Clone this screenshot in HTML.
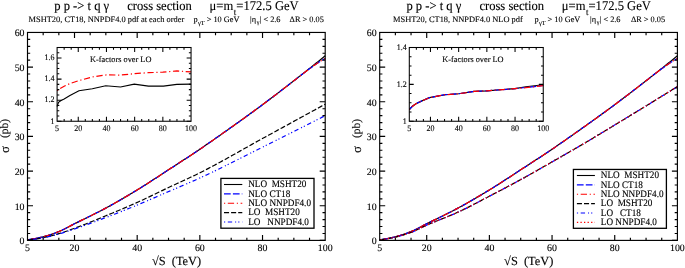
<!DOCTYPE html>
<html><head><meta charset="utf-8"><title>pp -> tq gamma cross section</title>
<style>
html,body{margin:0;padding:0;background:#fff;width:685px;height:268px;overflow:hidden}
svg{display:block;text-rendering:geometricPrecision;will-change:transform}
text{fill:#000;stroke:#000;stroke-width:0.12px;font-family:"Liberation Serif",serif}
</style></head><body>
<svg width="685" height="268" viewBox="0 0 685 268" font-family='"Liberation Serif", serif' style="white-space:pre">
<path d="M27.5,239.88 L29,239.68 L30.49,239.45 L31.99,239.2 L33.48,238.93 L34.98,238.64 L36.48,238.34 L37.97,238.02 L39.47,237.68 L40.96,237.33 L42.46,236.97 L43.96,236.6 L45.45,236.2 L46.95,235.77 L48.44,235.31 L49.94,234.83 L51.44,234.33 L52.93,233.8 L54.43,233.26 L55.92,232.7 L57.42,232.12 L58.92,231.53 L60.41,230.9 L61.91,230.23 L63.4,229.52 L64.9,228.77 L66.4,228 L67.89,227.22 L69.39,226.42 L70.88,225.63 L72.38,224.85 L73.88,224.08 L75.37,223.33 L76.87,222.59 L78.36,221.85 L79.86,221.12 L81.36,220.38 L82.85,219.65 L84.35,218.92 L85.84,218.19 L87.34,217.45 L88.84,216.72 L90.33,215.98 L91.83,215.25 L93.32,214.5 L94.82,213.76 L96.32,213.01 L97.81,212.25 L99.31,211.49 L100.8,210.72 L102.3,209.94 L103.79,209.15 L105.29,208.36 L106.79,207.55 L108.28,206.74 L109.78,205.92 L111.27,205.1 L112.77,204.27 L114.27,203.43 L115.76,202.58 L117.26,201.73 L118.75,200.87 L120.25,200.01 L121.75,199.14 L123.24,198.27 L124.74,197.39 L126.23,196.51 L127.73,195.63 L129.23,194.73 L130.72,193.84 L132.22,192.94 L133.71,192.04 L135.21,191.13 L136.71,190.22 L138.2,189.31 L139.7,188.39 L141.19,187.46 L142.69,186.53 L144.19,185.59 L145.68,184.64 L147.18,183.68 L148.67,182.73 L150.17,181.76 L151.67,180.8 L153.16,179.82 L154.66,178.85 L156.15,177.88 L157.65,176.9 L159.15,175.92 L160.64,174.94 L162.14,173.96 L163.63,172.98 L165.13,172.01 L166.63,171.03 L168.12,170.06 L169.62,169.09 L171.11,168.11 L172.61,167.14 L174.11,166.17 L175.6,165.2 L177.1,164.23 L178.59,163.26 L180.09,162.28 L181.59,161.31 L183.08,160.33 L184.58,159.36 L186.07,158.38 L187.57,157.39 L189.07,156.41 L190.56,155.42 L192.06,154.43 L193.55,153.44 L195.05,152.44 L196.55,151.44 L198.04,150.44 L199.54,149.43 L201.03,148.41 L202.53,147.4 L204.03,146.37 L205.52,145.35 L207.02,144.32 L208.51,143.29 L210.01,142.25 L211.51,141.21 L213,140.17 L214.5,139.13 L215.99,138.08 L217.49,137.03 L218.99,135.98 L220.48,134.93 L221.98,133.87 L223.47,132.81 L224.97,131.76 L226.47,130.7 L227.96,129.64 L229.46,128.57 L230.95,127.51 L232.45,126.45 L233.95,125.39 L235.44,124.32 L236.94,123.25 L238.43,122.19 L239.93,121.12 L241.43,120.04 L242.92,118.97 L244.42,117.9 L245.91,116.82 L247.41,115.74 L248.91,114.66 L250.4,113.57 L251.9,112.49 L253.39,111.4 L254.89,110.31 L256.38,109.21 L257.88,108.11 L259.38,107.01 L260.87,105.9 L262.37,104.79 L263.86,103.68 L265.36,102.57 L266.86,101.45 L268.35,100.32 L269.85,99.2 L271.34,98.07 L272.84,96.94 L274.34,95.8 L275.83,94.66 L277.33,93.52 L278.82,92.38 L280.32,91.24 L281.82,90.09 L283.31,88.94 L284.81,87.78 L286.3,86.63 L287.8,85.47 L289.3,84.31 L290.79,83.15 L292.29,81.99 L293.78,80.83 L295.28,79.66 L296.78,78.49 L298.27,77.32 L299.77,76.15 L301.26,74.97 L302.76,73.79 L304.26,72.61 L305.75,71.43 L307.25,70.24 L308.74,69.06 L310.24,67.87 L311.74,66.68 L313.23,65.48 L314.73,64.28 L316.22,63.09 L317.72,61.88 L319.22,60.68 L320.71,59.48 L322.21,58.27 L323.7,57.06 L325.2,55.84" stroke="#000" stroke-width="1.2" fill="none" stroke-dashoffset="0"/>
<path d="M27.5,239.88 L29,239.68 L30.49,239.45 L31.99,239.2 L33.48,238.93 L34.98,238.64 L36.48,238.34 L37.97,238.02 L39.47,237.68 L40.96,237.33 L42.46,236.97 L43.96,236.6 L45.45,236.2 L46.95,235.77 L48.44,235.31 L49.94,234.83 L51.44,234.33 L52.93,233.8 L54.43,233.26 L55.92,232.7 L57.42,232.12 L58.92,231.53 L60.41,230.9 L61.91,230.23 L63.4,229.52 L64.9,228.77 L66.4,228 L67.89,227.22 L69.39,226.42 L70.88,225.63 L72.38,224.85 L73.88,224.08 L75.37,223.33 L76.87,222.59 L78.36,221.85 L79.86,221.12 L81.36,220.38 L82.85,219.65 L84.35,218.92 L85.84,218.19 L87.34,217.45 L88.84,216.72 L90.33,215.98 L91.83,215.25 L93.32,214.5 L94.82,213.76 L96.32,213.01 L97.81,212.25 L99.31,211.49 L100.8,210.72 L102.3,209.94 L103.79,209.15 L105.29,208.36 L106.79,207.55 L108.28,206.74 L109.78,205.92 L111.27,205.1 L112.77,204.27 L114.27,203.43 L115.76,202.58 L117.26,201.73 L118.75,200.87 L120.25,200.01 L121.75,199.14 L123.24,198.27 L124.74,197.39 L126.23,196.51 L127.73,195.63 L129.23,194.73 L130.72,193.84 L132.22,192.94 L133.71,192.04 L135.21,191.13 L136.71,190.22 L138.2,189.31 L139.7,188.39 L141.19,187.46 L142.69,186.53 L144.19,185.59 L145.68,184.64 L147.18,183.68 L148.67,182.73 L150.17,181.76 L151.67,180.8 L153.16,179.82 L154.66,178.85 L156.15,177.88 L157.65,176.9 L159.15,175.92 L160.64,174.94 L162.14,173.96 L163.63,172.98 L165.13,172.01 L166.63,171.03 L168.12,170.06 L169.62,169.09 L171.11,168.11 L172.61,167.14 L174.11,166.17 L175.6,165.2 L177.1,164.23 L178.59,163.26 L180.09,162.28 L181.59,161.31 L183.08,160.33 L184.58,159.36 L186.07,158.38 L187.57,157.39 L189.07,156.41 L190.56,155.42 L192.06,154.43 L193.55,153.44 L195.05,152.44 L196.55,151.44 L198.04,150.44 L199.54,149.43 L201.03,148.41 L202.53,147.4 L204.03,146.37 L205.52,145.35 L207.02,144.32 L208.51,143.29 L210.01,142.25 L211.51,141.21 L213,140.17 L214.5,139.13 L215.99,138.08 L217.49,137.03 L218.99,135.98 L220.48,134.93 L221.98,133.87 L223.47,132.81 L224.97,131.76 L226.47,130.7 L227.96,129.64 L229.46,128.57 L230.95,127.51 L232.45,126.45 L233.95,125.39 L235.44,124.32 L236.94,123.25 L238.43,122.19 L239.93,121.12 L241.43,120.04 L242.92,118.97 L244.42,117.9 L245.91,116.82 L247.41,115.74 L248.91,114.66 L250.4,113.57 L251.9,112.49 L253.39,111.4 L254.89,110.31 L256.38,109.21 L257.88,108.11 L259.38,107.01 L260.87,105.9 L262.37,104.79 L263.86,103.68 L265.36,102.57 L266.86,101.45 L268.35,100.32 L269.85,99.2 L271.34,98.07 L272.84,96.94 L274.34,95.8 L275.83,94.66 L277.33,93.52 L278.82,92.38 L280.32,91.24 L281.82,90.09 L283.31,88.94 L284.81,87.78 L286.3,86.63 L287.8,85.47 L289.3,84.31 L290.79,83.15 L292.29,81.99 L293.78,80.83 L295.28,79.66 L296.78,78.49 L298.27,77.33 L299.77,76.16 L301.26,75 L302.76,73.85 L304.26,72.71 L305.75,71.57 L307.25,70.45 L308.74,69.34 L310.24,68.24 L311.74,67.16 L313.23,66.09 L314.73,65.05 L316.22,64.03 L317.72,63.03 L319.22,62.06 L320.71,61.11 L322.21,60.19 L323.7,59.3 L325.2,58.44" stroke="#0000ff" stroke-width="1.2" fill="none" stroke-dasharray="6.7 2.2" stroke-dashoffset="0"/>
<path d="M27.5,239.88 L29,239.68 L30.49,239.45 L31.99,239.2 L33.48,238.93 L34.98,238.64 L36.48,238.34 L37.97,238.02 L39.47,237.68 L40.96,237.33 L42.46,236.97 L43.96,236.6 L45.45,236.2 L46.95,235.77 L48.44,235.31 L49.94,234.83 L51.44,234.33 L52.93,233.8 L54.43,233.26 L55.92,232.7 L57.42,232.12 L58.92,231.53 L60.41,230.9 L61.91,230.23 L63.4,229.52 L64.9,228.77 L66.4,228 L67.89,227.22 L69.39,226.42 L70.88,225.63 L72.38,224.85 L73.88,224.08 L75.37,223.33 L76.87,222.59 L78.36,221.85 L79.86,221.12 L81.36,220.38 L82.85,219.65 L84.35,218.92 L85.84,218.19 L87.34,217.45 L88.84,216.72 L90.33,215.98 L91.83,215.25 L93.32,214.5 L94.82,213.76 L96.32,213.01 L97.81,212.25 L99.31,211.49 L100.8,210.72 L102.3,209.94 L103.79,209.15 L105.29,208.36 L106.79,207.55 L108.28,206.74 L109.78,205.92 L111.27,205.1 L112.77,204.27 L114.27,203.43 L115.76,202.58 L117.26,201.73 L118.75,200.87 L120.25,200.01 L121.75,199.14 L123.24,198.27 L124.74,197.39 L126.23,196.51 L127.73,195.63 L129.23,194.73 L130.72,193.84 L132.22,192.94 L133.71,192.04 L135.21,191.13 L136.71,190.22 L138.2,189.31 L139.7,188.39 L141.19,187.46 L142.69,186.53 L144.19,185.59 L145.68,184.64 L147.18,183.68 L148.67,182.73 L150.17,181.76 L151.67,180.8 L153.16,179.82 L154.66,178.85 L156.15,177.88 L157.65,176.9 L159.15,175.92 L160.64,174.94 L162.14,173.96 L163.63,172.98 L165.13,172.01 L166.63,171.03 L168.12,170.06 L169.62,169.09 L171.11,168.11 L172.61,167.14 L174.11,166.17 L175.6,165.2 L177.1,164.23 L178.59,163.26 L180.09,162.28 L181.59,161.31 L183.08,160.33 L184.58,159.36 L186.07,158.38 L187.57,157.39 L189.07,156.41 L190.56,155.42 L192.06,154.43 L193.55,153.44 L195.05,152.44 L196.55,151.44 L198.04,150.44 L199.54,149.43 L201.03,148.41 L202.53,147.4 L204.03,146.37 L205.52,145.35 L207.02,144.32 L208.51,143.29 L210.01,142.25 L211.51,141.21 L213,140.17 L214.5,139.13 L215.99,138.08 L217.49,137.03 L218.99,135.98 L220.48,134.93 L221.98,133.87 L223.47,132.81 L224.97,131.76 L226.47,130.7 L227.96,129.64 L229.46,128.57 L230.95,127.51 L232.45,126.45 L233.95,125.39 L235.44,124.32 L236.94,123.25 L238.43,122.19 L239.93,121.12 L241.43,120.04 L242.92,118.97 L244.42,117.9 L245.91,116.82 L247.41,115.74 L248.91,114.66 L250.4,113.57 L251.9,112.49 L253.39,111.4 L254.89,110.31 L256.38,109.21 L257.88,108.11 L259.38,107.01 L260.87,105.9 L262.37,104.79 L263.86,103.68 L265.36,102.57 L266.86,101.45 L268.35,100.32 L269.85,99.2 L271.34,98.07 L272.84,96.94 L274.34,95.8 L275.83,94.66 L277.33,93.52 L278.82,92.38 L280.32,91.24 L281.82,90.09 L283.31,88.94 L284.81,87.78 L286.3,86.63 L287.8,85.47 L289.3,84.31 L290.79,83.15 L292.29,81.99 L293.78,80.83 L295.28,79.66 L296.78,78.49 L298.27,77.33 L299.77,76.16 L301.26,75 L302.76,73.85 L304.26,72.71 L305.75,71.57 L307.25,70.45 L308.74,69.34 L310.24,68.24 L311.74,67.16 L313.23,66.09 L314.73,65.05 L316.22,64.03 L317.72,63.03 L319.22,62.06 L320.71,61.11 L322.21,60.19 L323.7,59.3 L325.2,58.44" stroke="#ff0000" stroke-width="1.2" fill="none" stroke-dasharray="1.2 2.6 6.3 2.7" stroke-dashoffset="0"/>
<path d="M27.5,239.98 L29,239.83 L30.49,239.65 L31.99,239.46 L33.48,239.26 L34.98,239.04 L36.48,238.8 L37.97,238.56 L39.47,238.3 L40.96,238.04 L42.46,237.76 L43.96,237.47 L45.45,237.17 L46.95,236.83 L48.44,236.48 L49.94,236.11 L51.44,235.72 L52.93,235.32 L54.43,234.91 L55.92,234.48 L57.42,234.05 L58.92,233.62 L60.41,233.17 L61.91,232.7 L63.4,232.21 L64.9,231.71 L66.4,231.2 L67.89,230.67 L69.39,230.13 L70.88,229.59 L72.38,229.05 L73.88,228.5 L75.37,227.95 L76.87,227.4 L78.36,226.84 L79.86,226.27 L81.36,225.69 L82.85,225.12 L84.35,224.53 L85.84,223.94 L87.34,223.35 L88.84,222.75 L90.33,222.15 L91.83,221.54 L93.32,220.94 L94.82,220.33 L96.32,219.71 L97.81,219.1 L99.31,218.48 L100.8,217.87 L102.3,217.25 L103.79,216.64 L105.29,216.02 L106.79,215.4 L108.28,214.79 L109.78,214.17 L111.27,213.55 L112.77,212.93 L114.27,212.31 L115.76,211.68 L117.26,211.06 L118.75,210.43 L120.25,209.8 L121.75,209.17 L123.24,208.53 L124.74,207.9 L126.23,207.25 L127.73,206.61 L129.23,205.96 L130.72,205.31 L132.22,204.65 L133.71,203.99 L135.21,203.33 L136.71,202.66 L138.2,201.99 L139.7,201.31 L141.19,200.62 L142.69,199.92 L144.19,199.22 L145.68,198.52 L147.18,197.81 L148.67,197.1 L150.17,196.38 L151.67,195.66 L153.16,194.94 L154.66,194.21 L156.15,193.49 L157.65,192.77 L159.15,192.04 L160.64,191.32 L162.14,190.59 L163.63,189.87 L165.13,189.16 L166.63,188.44 L168.12,187.73 L169.62,187.03 L171.11,186.32 L172.61,185.63 L174.11,184.93 L175.6,184.24 L177.1,183.55 L178.59,182.87 L180.09,182.18 L181.59,181.49 L183.08,180.8 L184.58,180.11 L186.07,179.42 L187.57,178.72 L189.07,178.03 L190.56,177.32 L192.06,176.61 L193.55,175.9 L195.05,175.18 L196.55,174.45 L198.04,173.72 L199.54,172.97 L201.03,172.22 L202.53,171.46 L204.03,170.7 L205.52,169.93 L207.02,169.15 L208.51,168.37 L210.01,167.58 L211.51,166.79 L213,165.99 L214.5,165.19 L215.99,164.39 L217.49,163.58 L218.99,162.77 L220.48,161.95 L221.98,161.13 L223.47,160.31 L224.97,159.48 L226.47,158.65 L227.96,157.82 L229.46,156.99 L230.95,156.15 L232.45,155.32 L233.95,154.48 L235.44,153.64 L236.94,152.8 L238.43,151.96 L239.93,151.11 L241.43,150.27 L242.92,149.43 L244.42,148.59 L245.91,147.75 L247.41,146.91 L248.91,146.07 L250.4,145.23 L251.9,144.39 L253.39,143.56 L254.89,142.72 L256.38,141.89 L257.88,141.06 L259.38,140.24 L260.87,139.41 L262.37,138.59 L263.86,137.77 L265.36,136.95 L266.86,136.13 L268.35,135.31 L269.85,134.5 L271.34,133.68 L272.84,132.86 L274.34,132.04 L275.83,131.22 L277.33,130.4 L278.82,129.58 L280.32,128.76 L281.82,127.94 L283.31,127.12 L284.81,126.31 L286.3,125.49 L287.8,124.67 L289.3,123.85 L290.79,123.03 L292.29,122.21 L293.78,121.39 L295.28,120.57 L296.78,119.75 L298.27,118.93 L299.77,118.12 L301.26,117.3 L302.76,116.48 L304.26,115.66 L305.75,114.84 L307.25,114.02 L308.74,113.2 L310.24,112.38 L311.74,111.56 L313.23,110.74 L314.73,109.93 L316.22,109.11 L317.72,108.29 L319.22,107.47 L320.71,106.65 L322.21,105.83 L323.7,105.01 L325.2,104.19" stroke="#000" stroke-width="1.2" fill="none" stroke-dasharray="5.05 2.05" stroke-dashoffset="6.2"/>
<path d="M27.5,240.02 L29,239.87 L30.49,239.71 L31.99,239.53 L33.48,239.34 L34.98,239.13 L36.48,238.91 L37.97,238.68 L39.47,238.44 L40.96,238.19 L42.46,237.93 L43.96,237.66 L45.45,237.36 L46.95,237.04 L48.44,236.71 L49.94,236.35 L51.44,235.98 L52.93,235.59 L54.43,235.19 L55.92,234.79 L57.42,234.38 L58.92,233.97 L60.41,233.54 L61.91,233.1 L63.4,232.64 L64.9,232.17 L66.4,231.69 L67.89,231.2 L69.39,230.7 L70.88,230.19 L72.38,229.68 L73.88,229.18 L75.37,228.67 L76.87,228.16 L78.36,227.64 L79.86,227.12 L81.36,226.59 L82.85,226.06 L84.35,225.52 L85.84,224.99 L87.34,224.44 L88.84,223.9 L90.33,223.35 L91.83,222.8 L93.32,222.24 L94.82,221.69 L96.32,221.13 L97.81,220.57 L99.31,220 L100.8,219.44 L102.3,218.87 L103.79,218.3 L105.29,217.74 L106.79,217.17 L108.28,216.59 L109.78,216.02 L111.27,215.44 L112.77,214.86 L114.27,214.27 L115.76,213.69 L117.26,213.1 L118.75,212.51 L120.25,211.91 L121.75,211.32 L123.24,210.72 L124.74,210.12 L126.23,209.52 L127.73,208.91 L129.23,208.31 L130.72,207.7 L132.22,207.09 L133.71,206.47 L135.21,205.86 L136.71,205.24 L138.2,204.62 L139.7,204 L141.19,203.38 L142.69,202.75 L144.19,202.11 L145.68,201.48 L147.18,200.84 L148.67,200.2 L150.17,199.55 L151.67,198.91 L153.16,198.26 L154.66,197.61 L156.15,196.96 L157.65,196.31 L159.15,195.66 L160.64,195.01 L162.14,194.36 L163.63,193.71 L165.13,193.07 L166.63,192.42 L168.12,191.77 L169.62,191.13 L171.11,190.48 L172.61,189.84 L174.11,189.21 L175.6,188.57 L177.1,187.93 L178.59,187.3 L180.09,186.66 L181.59,186.02 L183.08,185.38 L184.58,184.74 L186.07,184.1 L187.57,183.46 L189.07,182.81 L190.56,182.16 L192.06,181.5 L193.55,180.85 L195.05,180.18 L196.55,179.51 L198.04,178.84 L199.54,178.16 L201.03,177.47 L202.53,176.78 L204.03,176.09 L205.52,175.39 L207.02,174.69 L208.51,173.98 L210.01,173.27 L211.51,172.56 L213,171.84 L214.5,171.12 L215.99,170.39 L217.49,169.67 L218.99,168.94 L220.48,168.21 L221.98,167.47 L223.47,166.74 L224.97,166 L226.47,165.26 L227.96,164.51 L229.46,163.77 L230.95,163.02 L232.45,162.27 L233.95,161.53 L235.44,160.78 L236.94,160.02 L238.43,159.27 L239.93,158.52 L241.43,157.77 L242.92,157.01 L244.42,156.26 L245.91,155.51 L247.41,154.75 L248.91,154 L250.4,153.24 L251.9,152.49 L253.39,151.74 L254.89,150.99 L256.38,150.24 L257.88,149.49 L259.38,148.74 L260.87,147.99 L262.37,147.25 L263.86,146.5 L265.36,145.76 L266.86,145.01 L268.35,144.27 L269.85,143.52 L271.34,142.77 L272.84,142.03 L274.34,141.28 L275.83,140.53 L277.33,139.78 L278.82,139.03 L280.32,138.29 L281.82,137.54 L283.31,136.79 L284.81,136.04 L286.3,135.29 L287.8,134.53 L289.3,133.78 L290.79,133.03 L292.29,132.28 L293.78,131.53 L295.28,130.77 L296.78,130.02 L298.27,129.27 L299.77,128.51 L301.26,127.76 L302.76,127 L304.26,126.25 L305.75,125.49 L307.25,124.73 L308.74,123.98 L310.24,123.22 L311.74,122.46 L313.23,121.71 L314.73,120.95 L316.22,120.19 L317.72,119.43 L319.22,118.67 L320.71,117.91 L322.21,117.15 L323.7,116.39 L325.2,115.63" stroke="#0000ff" stroke-width="1.2" fill="none" stroke-dasharray="1.2 2.6 4.35 2.95 1.05 2.05" stroke-dashoffset="12.6"/>
<rect x="57.1" y="47.5" width="133.95" height="73.75" fill="#fff"/>
<path d="M57.1,106.5 L58.51,102.29 L61.05,100.6 L64.15,98.91 L69.93,95.44 L78.96,90.7 L92.35,88.8 L105.75,85.74 L120.55,87.01 L134.23,84.16 L148.47,86.06 L163.41,86.06 L176.81,84.38 L191.05,84.16" stroke="#000" stroke-width="1.15" fill="none" stroke-dashoffset="0"/>
<path d="M57.1,90.7 L59.92,88.59 L64.15,86.17 L69.93,83.53 L78.96,80.58 L92.35,77 L106.45,74.89 L120.55,75.1 L134.65,73.63 L148.75,72.68 L162.85,72.15 L176.95,70.89 L191.05,71.94" stroke="#ff0000" stroke-width="1.2" fill="none" stroke-dasharray="1.2 2.6 6.3 2.7" stroke-dashoffset="0"/>
<path d="M64.15,121.25v-2.2 M64.15,47.5v2.2 M71.2,121.25v-2.2 M71.2,47.5v2.2 M78.25,121.25v-4.4 M78.25,47.5v4.4 M85.3,121.25v-2.2 M85.3,47.5v2.2 M92.35,121.25v-2.2 M92.35,47.5v2.2 M99.4,121.25v-2.2 M99.4,47.5v2.2 M106.45,121.25v-4.4 M106.45,47.5v4.4 M113.5,121.25v-2.2 M113.5,47.5v2.2 M120.55,121.25v-2.2 M120.55,47.5v2.2 M127.6,121.25v-2.2 M127.6,47.5v2.2 M134.65,121.25v-4.4 M134.65,47.5v4.4 M141.7,121.25v-2.2 M141.7,47.5v2.2 M148.75,121.25v-2.2 M148.75,47.5v2.2 M155.8,121.25v-2.2 M155.8,47.5v2.2 M162.85,121.25v-4.4 M162.85,47.5v4.4 M169.9,121.25v-2.2 M169.9,47.5v2.2 M176.95,121.25v-2.2 M176.95,47.5v2.2 M184,121.25v-2.2 M184,47.5v2.2 M78.25,121.25v-4.4 M78.25,47.5v4.4 M106.45,121.25v-4.4 M106.45,47.5v4.4 M134.65,121.25v-4.4 M134.65,47.5v4.4 M162.85,121.25v-4.4 M162.85,47.5v4.4 M57.1,121.25h4.4 M191.05,121.25h-4.4 M57.1,115.98h2.2 M191.05,115.98h-2.2 M57.1,110.71h2.2 M191.05,110.71h-2.2 M57.1,105.45h2.2 M191.05,105.45h-2.2 M57.1,100.18h4.4 M191.05,100.18h-4.4 M57.1,94.91h2.2 M191.05,94.91h-2.2 M57.1,89.64h2.2 M191.05,89.64h-2.2 M57.1,84.38h2.2 M191.05,84.38h-2.2 M57.1,79.11h4.4 M191.05,79.11h-4.4 M57.1,73.84h2.2 M191.05,73.84h-2.2 M57.1,68.57h2.2 M191.05,68.57h-2.2 M57.1,63.3h2.2 M191.05,63.3h-2.2 M57.1,58.04h4.4 M191.05,58.04h-4.4 M57.1,52.77h2.2 M191.05,52.77h-2.2 M57.1,47.5h2.2 M191.05,47.5h-2.2" stroke="#000" stroke-width="1.05" fill="none"/>
<rect x="57.1" y="47.5" width="133.95" height="73.75" fill="none" stroke="#000" stroke-width="1.05"/>
<text transform="translate(57.1,130.6) scale(1,1.06)" font-size="8" text-anchor="middle">5</text>
<text transform="translate(78.25,130.6) scale(1,1.06)" font-size="8" text-anchor="middle">20</text>
<text transform="translate(106.45,130.6) scale(1,1.06)" font-size="8" text-anchor="middle">40</text>
<text transform="translate(134.65,130.6) scale(1,1.06)" font-size="8" text-anchor="middle">60</text>
<text transform="translate(162.85,130.6) scale(1,1.06)" font-size="8" text-anchor="middle">80</text>
<text transform="translate(191.05,130.6) scale(1,1.06)" font-size="8" text-anchor="middle">100</text>
<text transform="translate(54.6,123.55) scale(1,1.06)" font-size="8" text-anchor="end">1</text>
<text transform="translate(54.6,102.48) scale(1,1.06)" font-size="8" text-anchor="end">1.2</text>
<text transform="translate(54.6,81.41) scale(1,1.06)" font-size="8" text-anchor="end">1.4</text>
<text transform="translate(54.6,60.34) scale(1,1.06)" font-size="8" text-anchor="end">1.6</text>
<text x="90.1" y="62" font-size="8.3" text-anchor="start">K-factors over LO</text>
<path d="M43.17,240.4v-2.7 M43.17,32.45v2.7 M58.84,240.4v-2.7 M58.84,32.45v2.7 M74.51,240.4v-5.5 M74.51,32.45v5.5 M90.17,240.4v-2.7 M90.17,32.45v2.7 M105.84,240.4v-2.7 M105.84,32.45v2.7 M121.51,240.4v-2.7 M121.51,32.45v2.7 M137.18,240.4v-5.5 M137.18,32.45v5.5 M152.85,240.4v-2.7 M152.85,32.45v2.7 M168.52,240.4v-2.7 M168.52,32.45v2.7 M184.18,240.4v-2.7 M184.18,32.45v2.7 M199.85,240.4v-5.5 M199.85,32.45v5.5 M215.52,240.4v-2.7 M215.52,32.45v2.7 M231.19,240.4v-2.7 M231.19,32.45v2.7 M246.86,240.4v-2.7 M246.86,32.45v2.7 M262.53,240.4v-5.5 M262.53,32.45v5.5 M278.19,240.4v-2.7 M278.19,32.45v2.7 M293.86,240.4v-2.7 M293.86,32.45v2.7 M309.53,240.4v-2.7 M309.53,32.45v2.7 M27.5,240.4h5.5 M325.2,240.4h-5.5 M27.5,233.47h2.7 M325.2,233.47h-2.7 M27.5,226.54h2.7 M325.2,226.54h-2.7 M27.5,219.61h2.7 M325.2,219.61h-2.7 M27.5,212.67h2.7 M325.2,212.67h-2.7 M27.5,205.74h5.5 M325.2,205.74h-5.5 M27.5,198.81h2.7 M325.2,198.81h-2.7 M27.5,191.88h2.7 M325.2,191.88h-2.7 M27.5,184.95h2.7 M325.2,184.95h-2.7 M27.5,178.02h2.7 M325.2,178.02h-2.7 M27.5,171.08h5.5 M325.2,171.08h-5.5 M27.5,164.15h2.7 M325.2,164.15h-2.7 M27.5,157.22h2.7 M325.2,157.22h-2.7 M27.5,150.29h2.7 M325.2,150.29h-2.7 M27.5,143.36h2.7 M325.2,143.36h-2.7 M27.5,136.43h5.5 M325.2,136.43h-5.5 M27.5,129.49h2.7 M325.2,129.49h-2.7 M27.5,122.56h2.7 M325.2,122.56h-2.7 M27.5,115.63h2.7 M325.2,115.63h-2.7 M27.5,108.7h2.7 M325.2,108.7h-2.7 M27.5,101.77h5.5 M325.2,101.77h-5.5 M27.5,94.84h2.7 M325.2,94.84h-2.7 M27.5,87.9h2.7 M325.2,87.9h-2.7 M27.5,80.97h2.7 M325.2,80.97h-2.7 M27.5,74.04h2.7 M325.2,74.04h-2.7 M27.5,67.11h5.5 M325.2,67.11h-5.5 M27.5,60.18h2.7 M325.2,60.18h-2.7 M27.5,53.25h2.7 M325.2,53.25h-2.7 M27.5,46.31h2.7 M325.2,46.31h-2.7 M27.5,39.38h2.7 M325.2,39.38h-2.7 M27.5,32.45h5.5 M325.2,32.45h-5.5" stroke="#000" stroke-width="1.15" fill="none"/>
<rect x="27.5" y="32.45" width="297.7" height="207.95" fill="none" stroke="#000" stroke-width="1.15"/>
<text x="27.5" y="250.6" font-size="9.9" text-anchor="middle">5</text>
<text x="74.51" y="250.6" font-size="9.9" text-anchor="middle">20</text>
<text x="137.18" y="250.6" font-size="9.9" text-anchor="middle">40</text>
<text x="199.85" y="250.6" font-size="9.9" text-anchor="middle">60</text>
<text x="262.53" y="250.6" font-size="9.9" text-anchor="middle">80</text>
<text x="325.2" y="250.6" font-size="9.9" text-anchor="middle">100</text>
<text x="24.5" y="244.4" font-size="9.9" text-anchor="end">0</text>
<text x="24.5" y="209.74" font-size="9.9" text-anchor="end">10</text>
<text x="24.5" y="175.08" font-size="9.9" text-anchor="end">20</text>
<text x="24.5" y="140.43" font-size="9.9" text-anchor="end">30</text>
<text x="24.5" y="105.77" font-size="9.9" text-anchor="end">40</text>
<text x="24.5" y="71.11" font-size="9.9" text-anchor="end">50</text>
<text x="24.5" y="36.45" font-size="9.9" text-anchor="end">60</text>
<text x="151.9" y="265" font-size="12.4" text-anchor="start">&#8730;S&#160;&#160;(TeV)</text>
<text transform="translate(8.2,128.4) rotate(-90)" font-size="11.5" text-anchor="middle">(pb)</text>
<text transform="translate(8.6,149.6) rotate(-90)" font-size="13" text-anchor="middle">&#963;</text>
<rect x="220.9" y="178.4" width="93.1" height="49.8" fill="#fff" stroke="#000" stroke-width="1.3"/>
<path d="M224,184.5H242.3" stroke="#000" stroke-width="1.1" fill="none" stroke-dashoffset="0"/>
<text transform="translate(248.2,187.3) scale(1,1.08)" font-size="9.2" text-anchor="start">NLO&#160;&#160;MSHT20</text>
<path d="M224,193.88H242.3" stroke="#0000ff" stroke-width="1.1" fill="none" stroke-dasharray="6.7 2.2" stroke-dashoffset="0"/>
<text transform="translate(248.2,196.68) scale(1,1.08)" font-size="9.2" text-anchor="start">NLO CT18</text>
<path d="M224,203.26H242.3" stroke="#ff0000" stroke-width="1.1" fill="none" stroke-dasharray="1.2 2.6 6.3 2.7" stroke-dashoffset="0"/>
<text transform="translate(248.2,206.06) scale(1,1.08)" font-size="9.2" text-anchor="start">NLO NNPDF4.0</text>
<path d="M224,212.64H242.3" stroke="#000" stroke-width="1.1" fill="none" stroke-dasharray="5.05 2.05" stroke-dashoffset="0"/>
<text transform="translate(248.2,215.44) scale(1,1.08)" font-size="9.2" text-anchor="start">LO&#160;&#160;MSHT20</text>
<path d="M224,222.02H242.3" stroke="#0000ff" stroke-width="1.1" fill="none" stroke-dasharray="1.2 2.6 4.35 2.95 1.05 2.05" stroke-dashoffset="0"/>
<text transform="translate(248.2,224.82) scale(1,1.08)" font-size="9.2" text-anchor="start">LO&#160;&#160;&#160;NNPDF4.0</text>
<path d="M379.7,239.88 L381.2,239.68 L382.69,239.45 L384.19,239.2 L385.68,238.93 L387.18,238.64 L388.68,238.34 L390.17,238.02 L391.67,237.68 L393.16,237.33 L394.66,236.97 L396.16,236.6 L397.65,236.2 L399.15,235.77 L400.64,235.31 L402.14,234.83 L403.64,234.33 L405.13,233.8 L406.63,233.26 L408.12,232.7 L409.62,232.12 L411.12,231.53 L412.61,230.9 L414.11,230.23 L415.6,229.52 L417.1,228.77 L418.6,228 L420.09,227.22 L421.59,226.42 L423.08,225.63 L424.58,224.85 L426.08,224.08 L427.57,223.33 L429.07,222.59 L430.56,221.85 L432.06,221.12 L433.56,220.38 L435.05,219.65 L436.55,218.92 L438.04,218.19 L439.54,217.45 L441.04,216.72 L442.53,215.98 L444.03,215.25 L445.52,214.5 L447.02,213.76 L448.52,213.01 L450.01,212.25 L451.51,211.49 L453,210.72 L454.5,209.94 L455.99,209.15 L457.49,208.36 L458.99,207.55 L460.48,206.74 L461.98,205.92 L463.47,205.1 L464.97,204.27 L466.47,203.43 L467.96,202.58 L469.46,201.73 L470.95,200.87 L472.45,200.01 L473.95,199.14 L475.44,198.27 L476.94,197.39 L478.43,196.51 L479.93,195.63 L481.43,194.73 L482.92,193.84 L484.42,192.94 L485.91,192.04 L487.41,191.13 L488.91,190.22 L490.4,189.31 L491.9,188.39 L493.39,187.46 L494.89,186.53 L496.39,185.59 L497.88,184.64 L499.38,183.68 L500.87,182.73 L502.37,181.76 L503.87,180.8 L505.36,179.82 L506.86,178.85 L508.35,177.88 L509.85,176.9 L511.35,175.92 L512.84,174.94 L514.34,173.96 L515.83,172.98 L517.33,172.01 L518.83,171.03 L520.32,170.06 L521.82,169.09 L523.31,168.11 L524.81,167.14 L526.31,166.17 L527.8,165.2 L529.3,164.23 L530.79,163.26 L532.29,162.28 L533.79,161.31 L535.28,160.33 L536.78,159.36 L538.27,158.38 L539.77,157.39 L541.27,156.41 L542.76,155.42 L544.26,154.43 L545.75,153.44 L547.25,152.44 L548.75,151.44 L550.24,150.44 L551.74,149.43 L553.23,148.41 L554.73,147.4 L556.23,146.37 L557.72,145.35 L559.22,144.32 L560.71,143.29 L562.21,142.25 L563.71,141.21 L565.2,140.17 L566.7,139.13 L568.19,138.08 L569.69,137.03 L571.19,135.98 L572.68,134.93 L574.18,133.87 L575.67,132.81 L577.17,131.76 L578.67,130.7 L580.16,129.64 L581.66,128.57 L583.15,127.51 L584.65,126.45 L586.15,125.39 L587.64,124.32 L589.14,123.25 L590.63,122.19 L592.13,121.12 L593.63,120.04 L595.12,118.97 L596.62,117.9 L598.11,116.82 L599.61,115.74 L601.11,114.66 L602.6,113.57 L604.1,112.49 L605.59,111.4 L607.09,110.31 L608.58,109.21 L610.08,108.11 L611.58,107.01 L613.07,105.9 L614.57,104.79 L616.06,103.68 L617.56,102.57 L619.06,101.45 L620.55,100.32 L622.05,99.2 L623.54,98.07 L625.04,96.94 L626.54,95.8 L628.03,94.66 L629.53,93.52 L631.02,92.38 L632.52,91.24 L634.02,90.09 L635.51,88.94 L637.01,87.78 L638.5,86.63 L640,85.47 L641.5,84.31 L642.99,83.15 L644.49,81.99 L645.98,80.83 L647.48,79.66 L648.98,78.49 L650.47,77.32 L651.97,76.15 L653.46,74.97 L654.96,73.79 L656.46,72.61 L657.95,71.43 L659.45,70.24 L660.94,69.06 L662.44,67.87 L663.94,66.68 L665.43,65.48 L666.93,64.28 L668.42,63.09 L669.92,61.88 L671.42,60.68 L672.91,59.48 L674.41,58.27 L675.9,57.06 L677.4,55.84" stroke="#000" stroke-width="1.2" fill="none" stroke-dashoffset="0"/>
<path d="M379.7,239.88 L381.2,239.68 L382.69,239.45 L384.19,239.2 L385.68,238.93 L387.18,238.64 L388.68,238.34 L390.17,238.02 L391.67,237.68 L393.16,237.33 L394.66,236.97 L396.16,236.6 L397.65,236.2 L399.15,235.77 L400.64,235.31 L402.14,234.83 L403.64,234.33 L405.13,233.8 L406.63,233.26 L408.12,232.7 L409.62,232.12 L411.12,231.53 L412.61,230.9 L414.11,230.23 L415.6,229.52 L417.1,228.77 L418.6,228 L420.09,227.22 L421.59,226.42 L423.08,225.63 L424.58,224.85 L426.08,224.08 L427.57,223.33 L429.07,222.59 L430.56,221.85 L432.06,221.12 L433.56,220.38 L435.05,219.65 L436.55,218.92 L438.04,218.19 L439.54,217.45 L441.04,216.72 L442.53,215.98 L444.03,215.25 L445.52,214.5 L447.02,213.76 L448.52,213.01 L450.01,212.25 L451.51,211.49 L453,210.72 L454.5,209.94 L455.99,209.15 L457.49,208.36 L458.99,207.55 L460.48,206.74 L461.98,205.92 L463.47,205.1 L464.97,204.27 L466.47,203.43 L467.96,202.58 L469.46,201.73 L470.95,200.87 L472.45,200.01 L473.95,199.14 L475.44,198.27 L476.94,197.39 L478.43,196.51 L479.93,195.63 L481.43,194.73 L482.92,193.84 L484.42,192.94 L485.91,192.04 L487.41,191.13 L488.91,190.22 L490.4,189.31 L491.9,188.39 L493.39,187.46 L494.89,186.53 L496.39,185.59 L497.88,184.64 L499.38,183.68 L500.87,182.73 L502.37,181.76 L503.87,180.8 L505.36,179.82 L506.86,178.85 L508.35,177.88 L509.85,176.9 L511.35,175.92 L512.84,174.94 L514.34,173.96 L515.83,172.98 L517.33,172.01 L518.83,171.03 L520.32,170.06 L521.82,169.09 L523.31,168.11 L524.81,167.14 L526.31,166.17 L527.8,165.2 L529.3,164.23 L530.79,163.26 L532.29,162.28 L533.79,161.31 L535.28,160.33 L536.78,159.36 L538.27,158.38 L539.77,157.39 L541.27,156.41 L542.76,155.42 L544.26,154.43 L545.75,153.44 L547.25,152.44 L548.75,151.44 L550.24,150.44 L551.74,149.43 L553.23,148.41 L554.73,147.4 L556.23,146.37 L557.72,145.35 L559.22,144.32 L560.71,143.29 L562.21,142.25 L563.71,141.21 L565.2,140.17 L566.7,139.13 L568.19,138.08 L569.69,137.03 L571.19,135.98 L572.68,134.93 L574.18,133.87 L575.67,132.81 L577.17,131.76 L578.67,130.7 L580.16,129.64 L581.66,128.57 L583.15,127.51 L584.65,126.45 L586.15,125.39 L587.64,124.32 L589.14,123.25 L590.63,122.19 L592.13,121.12 L593.63,120.04 L595.12,118.97 L596.62,117.9 L598.11,116.82 L599.61,115.74 L601.11,114.66 L602.6,113.57 L604.1,112.49 L605.59,111.4 L607.09,110.31 L608.58,109.21 L610.08,108.11 L611.58,107.01 L613.07,105.9 L614.57,104.79 L616.06,103.68 L617.56,102.57 L619.06,101.45 L620.55,100.32 L622.05,99.2 L623.54,98.07 L625.04,96.94 L626.54,95.8 L628.03,94.66 L629.53,93.52 L631.02,92.38 L632.52,91.24 L634.02,90.09 L635.51,88.94 L637.01,87.78 L638.5,86.63 L640,85.47 L641.5,84.31 L642.99,83.15 L644.49,81.99 L645.98,80.83 L647.48,79.66 L648.98,78.49 L650.47,77.33 L651.97,76.16 L653.46,75 L654.96,73.85 L656.46,72.71 L657.95,71.57 L659.45,70.45 L660.94,69.34 L662.44,68.24 L663.94,67.16 L665.43,66.09 L666.93,65.05 L668.42,64.03 L669.92,63.03 L671.42,62.06 L672.91,61.11 L674.41,60.19 L675.9,59.3 L677.4,58.44" stroke="#0000ff" stroke-width="1.2" fill="none" stroke-dasharray="6.7 2.2" stroke-dashoffset="0"/>
<path d="M379.7,239.88 L381.2,239.68 L382.69,239.45 L384.19,239.2 L385.68,238.93 L387.18,238.64 L388.68,238.34 L390.17,238.02 L391.67,237.68 L393.16,237.33 L394.66,236.97 L396.16,236.6 L397.65,236.2 L399.15,235.77 L400.64,235.31 L402.14,234.83 L403.64,234.33 L405.13,233.8 L406.63,233.26 L408.12,232.7 L409.62,232.12 L411.12,231.53 L412.61,230.9 L414.11,230.23 L415.6,229.52 L417.1,228.77 L418.6,228 L420.09,227.22 L421.59,226.42 L423.08,225.63 L424.58,224.85 L426.08,224.08 L427.57,223.33 L429.07,222.59 L430.56,221.85 L432.06,221.12 L433.56,220.38 L435.05,219.65 L436.55,218.92 L438.04,218.19 L439.54,217.45 L441.04,216.72 L442.53,215.98 L444.03,215.25 L445.52,214.5 L447.02,213.76 L448.52,213.01 L450.01,212.25 L451.51,211.49 L453,210.72 L454.5,209.94 L455.99,209.15 L457.49,208.36 L458.99,207.55 L460.48,206.74 L461.98,205.92 L463.47,205.1 L464.97,204.27 L466.47,203.43 L467.96,202.58 L469.46,201.73 L470.95,200.87 L472.45,200.01 L473.95,199.14 L475.44,198.27 L476.94,197.39 L478.43,196.51 L479.93,195.63 L481.43,194.73 L482.92,193.84 L484.42,192.94 L485.91,192.04 L487.41,191.13 L488.91,190.22 L490.4,189.31 L491.9,188.39 L493.39,187.46 L494.89,186.53 L496.39,185.59 L497.88,184.64 L499.38,183.68 L500.87,182.73 L502.37,181.76 L503.87,180.8 L505.36,179.82 L506.86,178.85 L508.35,177.88 L509.85,176.9 L511.35,175.92 L512.84,174.94 L514.34,173.96 L515.83,172.98 L517.33,172.01 L518.83,171.03 L520.32,170.06 L521.82,169.09 L523.31,168.11 L524.81,167.14 L526.31,166.17 L527.8,165.2 L529.3,164.23 L530.79,163.26 L532.29,162.28 L533.79,161.31 L535.28,160.33 L536.78,159.36 L538.27,158.38 L539.77,157.39 L541.27,156.41 L542.76,155.42 L544.26,154.43 L545.75,153.44 L547.25,152.44 L548.75,151.44 L550.24,150.44 L551.74,149.43 L553.23,148.41 L554.73,147.4 L556.23,146.37 L557.72,145.35 L559.22,144.32 L560.71,143.29 L562.21,142.25 L563.71,141.21 L565.2,140.17 L566.7,139.13 L568.19,138.08 L569.69,137.03 L571.19,135.98 L572.68,134.93 L574.18,133.87 L575.67,132.81 L577.17,131.76 L578.67,130.7 L580.16,129.64 L581.66,128.57 L583.15,127.51 L584.65,126.45 L586.15,125.39 L587.64,124.32 L589.14,123.25 L590.63,122.19 L592.13,121.12 L593.63,120.04 L595.12,118.97 L596.62,117.9 L598.11,116.82 L599.61,115.74 L601.11,114.66 L602.6,113.57 L604.1,112.49 L605.59,111.4 L607.09,110.31 L608.58,109.21 L610.08,108.11 L611.58,107.01 L613.07,105.9 L614.57,104.79 L616.06,103.68 L617.56,102.57 L619.06,101.45 L620.55,100.32 L622.05,99.2 L623.54,98.07 L625.04,96.94 L626.54,95.8 L628.03,94.66 L629.53,93.52 L631.02,92.38 L632.52,91.24 L634.02,90.09 L635.51,88.94 L637.01,87.78 L638.5,86.63 L640,85.47 L641.5,84.31 L642.99,83.15 L644.49,81.99 L645.98,80.83 L647.48,79.66 L648.98,78.49 L650.47,77.33 L651.97,76.16 L653.46,75 L654.96,73.85 L656.46,72.71 L657.95,71.57 L659.45,70.45 L660.94,69.34 L662.44,68.24 L663.94,67.16 L665.43,66.09 L666.93,65.05 L668.42,64.03 L669.92,63.03 L671.42,62.06 L672.91,61.11 L674.41,60.19 L675.9,59.3 L677.4,58.44" stroke="#ff0000" stroke-width="1.2" fill="none" stroke-dasharray="1.2 2.6 6.3 2.7" stroke-dashoffset="0"/>
<path d="M379.7,239.91 L381.2,239.73 L382.69,239.52 L384.19,239.29 L385.68,239.04 L387.18,238.78 L388.68,238.5 L390.17,238.21 L391.67,237.91 L393.16,237.59 L394.66,237.27 L396.16,236.93 L397.65,236.57 L399.15,236.19 L400.64,235.78 L402.14,235.36 L403.64,234.91 L405.13,234.44 L406.63,233.96 L408.12,233.46 L409.62,232.94 L411.12,232.4 L412.61,231.82 L414.11,231.19 L415.6,230.52 L417.1,229.81 L418.6,229.08 L420.09,228.33 L421.59,227.59 L423.08,226.85 L424.58,226.13 L426.08,225.43 L427.57,224.77 L429.07,224.12 L430.56,223.49 L432.06,222.87 L433.56,222.25 L435.05,221.64 L436.55,221.04 L438.04,220.44 L439.54,219.84 L441.04,219.25 L442.53,218.65 L444.03,218.06 L445.52,217.46 L447.02,216.85 L448.52,216.25 L450.01,215.63 L451.51,215.01 L453,214.38 L454.5,213.73 L455.99,213.07 L457.49,212.4 L458.99,211.72 L460.48,211.02 L461.98,210.31 L463.47,209.59 L464.97,208.86 L466.47,208.12 L467.96,207.37 L469.46,206.61 L470.95,205.85 L472.45,205.08 L473.95,204.3 L475.44,203.52 L476.94,202.74 L478.43,201.96 L479.93,201.17 L481.43,200.38 L482.92,199.59 L484.42,198.8 L485.91,198.02 L487.41,197.24 L488.91,196.46 L490.4,195.68 L491.9,194.9 L493.39,194.12 L494.89,193.34 L496.39,192.56 L497.88,191.78 L499.38,191 L500.87,190.22 L502.37,189.43 L503.87,188.64 L505.36,187.85 L506.86,187.06 L508.35,186.27 L509.85,185.47 L511.35,184.67 L512.84,183.87 L514.34,183.07 L515.83,182.26 L517.33,181.45 L518.83,180.64 L520.32,179.82 L521.82,179.01 L523.31,178.18 L524.81,177.35 L526.31,176.52 L527.8,175.69 L529.3,174.85 L530.79,174.01 L532.29,173.17 L533.79,172.32 L535.28,171.47 L536.78,170.62 L538.27,169.77 L539.77,168.92 L541.27,168.07 L542.76,167.21 L544.26,166.35 L545.75,165.5 L547.25,164.64 L548.75,163.79 L550.24,162.93 L551.74,162.08 L553.23,161.22 L554.73,160.37 L556.23,159.52 L557.72,158.66 L559.22,157.81 L560.71,156.96 L562.21,156.1 L563.71,155.24 L565.2,154.39 L566.7,153.53 L568.19,152.67 L569.69,151.81 L571.19,150.95 L572.68,150.08 L574.18,149.22 L575.67,148.35 L577.17,147.48 L578.67,146.61 L580.16,145.74 L581.66,144.86 L583.15,143.98 L584.65,143.1 L586.15,142.21 L587.64,141.33 L589.14,140.44 L590.63,139.54 L592.13,138.65 L593.63,137.75 L595.12,136.85 L596.62,135.95 L598.11,135.05 L599.61,134.15 L601.11,133.24 L602.6,132.34 L604.1,131.43 L605.59,130.52 L607.09,129.62 L608.58,128.71 L610.08,127.8 L611.58,126.89 L613.07,125.99 L614.57,125.08 L616.06,124.18 L617.56,123.27 L619.06,122.37 L620.55,121.46 L622.05,120.56 L623.54,119.65 L625.04,118.74 L626.54,117.83 L628.03,116.93 L629.53,116.02 L631.02,115.11 L632.52,114.2 L634.02,113.29 L635.51,112.38 L637.01,111.46 L638.5,110.55 L640,109.64 L641.5,108.72 L642.99,107.81 L644.49,106.89 L645.98,105.97 L647.48,105.06 L648.98,104.14 L650.47,103.22 L651.97,102.29 L653.46,101.37 L654.96,100.45 L656.46,99.53 L657.95,98.6 L659.45,97.68 L660.94,96.75 L662.44,95.83 L663.94,94.9 L665.43,93.97 L666.93,93.04 L668.42,92.11 L669.92,91.18 L671.42,90.25 L672.91,89.32 L674.41,88.39 L675.9,87.45 L677.4,86.52" stroke="#000" stroke-width="1.2" fill="none" stroke-dasharray="5.05 2.05" stroke-dashoffset="13.2"/>
<path d="M379.7,239.91 L381.2,239.73 L382.69,239.52 L384.19,239.29 L385.68,239.04 L387.18,238.78 L388.68,238.5 L390.17,238.21 L391.67,237.91 L393.16,237.59 L394.66,237.27 L396.16,236.93 L397.65,236.57 L399.15,236.19 L400.64,235.78 L402.14,235.36 L403.64,234.91 L405.13,234.44 L406.63,233.96 L408.12,233.46 L409.62,232.94 L411.12,232.4 L412.61,231.82 L414.11,231.19 L415.6,230.52 L417.1,229.81 L418.6,229.08 L420.09,228.33 L421.59,227.59 L423.08,226.85 L424.58,226.13 L426.08,225.43 L427.57,224.77 L429.07,224.12 L430.56,223.49 L432.06,222.87 L433.56,222.25 L435.05,221.64 L436.55,221.04 L438.04,220.44 L439.54,219.84 L441.04,219.25 L442.53,218.65 L444.03,218.06 L445.52,217.46 L447.02,216.85 L448.52,216.25 L450.01,215.63 L451.51,215.01 L453,214.38 L454.5,213.73 L455.99,213.07 L457.49,212.4 L458.99,211.72 L460.48,211.02 L461.98,210.31 L463.47,209.59 L464.97,208.86 L466.47,208.12 L467.96,207.37 L469.46,206.61 L470.95,205.85 L472.45,205.08 L473.95,204.3 L475.44,203.52 L476.94,202.74 L478.43,201.96 L479.93,201.17 L481.43,200.38 L482.92,199.59 L484.42,198.8 L485.91,198.02 L487.41,197.24 L488.91,196.46 L490.4,195.68 L491.9,194.9 L493.39,194.12 L494.89,193.34 L496.39,192.56 L497.88,191.78 L499.38,191 L500.87,190.22 L502.37,189.43 L503.87,188.64 L505.36,187.85 L506.86,187.06 L508.35,186.27 L509.85,185.47 L511.35,184.67 L512.84,183.87 L514.34,183.07 L515.83,182.26 L517.33,181.45 L518.83,180.64 L520.32,179.82 L521.82,179.01 L523.31,178.18 L524.81,177.35 L526.31,176.52 L527.8,175.69 L529.3,174.85 L530.79,174.01 L532.29,173.17 L533.79,172.32 L535.28,171.47 L536.78,170.62 L538.27,169.77 L539.77,168.92 L541.27,168.07 L542.76,167.21 L544.26,166.35 L545.75,165.5 L547.25,164.64 L548.75,163.79 L550.24,162.93 L551.74,162.08 L553.23,161.22 L554.73,160.37 L556.23,159.52 L557.72,158.66 L559.22,157.81 L560.71,156.96 L562.21,156.1 L563.71,155.24 L565.2,154.39 L566.7,153.53 L568.19,152.67 L569.69,151.81 L571.19,150.95 L572.68,150.08 L574.18,149.22 L575.67,148.35 L577.17,147.48 L578.67,146.61 L580.16,145.74 L581.66,144.86 L583.15,143.98 L584.65,143.1 L586.15,142.21 L587.64,141.33 L589.14,140.44 L590.63,139.54 L592.13,138.65 L593.63,137.75 L595.12,136.85 L596.62,135.95 L598.11,135.05 L599.61,134.15 L601.11,133.24 L602.6,132.34 L604.1,131.43 L605.59,130.52 L607.09,129.62 L608.58,128.71 L610.08,127.8 L611.58,126.89 L613.07,125.99 L614.57,125.08 L616.06,124.18 L617.56,123.27 L619.06,122.37 L620.55,121.46 L622.05,120.56 L623.54,119.65 L625.04,118.74 L626.54,117.83 L628.03,116.93 L629.53,116.02 L631.02,115.11 L632.52,114.2 L634.02,113.29 L635.51,112.38 L637.01,111.46 L638.5,110.55 L640,109.64 L641.5,108.72 L642.99,107.81 L644.49,106.89 L645.98,105.97 L647.48,105.06 L648.98,104.14 L650.47,103.22 L651.97,102.29 L653.46,101.37 L654.96,100.45 L656.46,99.53 L657.95,98.6 L659.45,97.68 L660.94,96.75 L662.44,95.83 L663.94,94.9 L665.43,93.97 L666.93,93.04 L668.42,92.11 L669.92,91.18 L671.42,90.25 L672.91,89.32 L674.41,88.39 L675.9,87.45 L677.4,86.52" stroke="#0000ff" stroke-width="1.2" fill="none" stroke-dasharray="1.2 2.6 4.35 2.95 1.05 2.05" stroke-dashoffset="13.2"/>
<path d="M379.7,239.91 L381.2,239.73 L382.69,239.52 L384.19,239.29 L385.68,239.04 L387.18,238.78 L388.68,238.5 L390.17,238.21 L391.67,237.91 L393.16,237.59 L394.66,237.27 L396.16,236.93 L397.65,236.57 L399.15,236.19 L400.64,235.78 L402.14,235.36 L403.64,234.91 L405.13,234.44 L406.63,233.96 L408.12,233.46 L409.62,232.94 L411.12,232.4 L412.61,231.82 L414.11,231.19 L415.6,230.52 L417.1,229.81 L418.6,229.08 L420.09,228.33 L421.59,227.59 L423.08,226.85 L424.58,226.13 L426.08,225.43 L427.57,224.77 L429.07,224.12 L430.56,223.49 L432.06,222.87 L433.56,222.25 L435.05,221.64 L436.55,221.04 L438.04,220.44 L439.54,219.84 L441.04,219.25 L442.53,218.65 L444.03,218.06 L445.52,217.46 L447.02,216.85 L448.52,216.25 L450.01,215.63 L451.51,215.01 L453,214.38 L454.5,213.73 L455.99,213.07 L457.49,212.4 L458.99,211.72 L460.48,211.02 L461.98,210.31 L463.47,209.59 L464.97,208.86 L466.47,208.12 L467.96,207.37 L469.46,206.61 L470.95,205.85 L472.45,205.08 L473.95,204.3 L475.44,203.52 L476.94,202.74 L478.43,201.96 L479.93,201.17 L481.43,200.38 L482.92,199.59 L484.42,198.8 L485.91,198.02 L487.41,197.24 L488.91,196.46 L490.4,195.68 L491.9,194.9 L493.39,194.12 L494.89,193.34 L496.39,192.56 L497.88,191.78 L499.38,191 L500.87,190.22 L502.37,189.43 L503.87,188.64 L505.36,187.85 L506.86,187.06 L508.35,186.27 L509.85,185.47 L511.35,184.67 L512.84,183.87 L514.34,183.07 L515.83,182.26 L517.33,181.45 L518.83,180.64 L520.32,179.82 L521.82,179.01 L523.31,178.18 L524.81,177.35 L526.31,176.52 L527.8,175.69 L529.3,174.85 L530.79,174.01 L532.29,173.17 L533.79,172.32 L535.28,171.47 L536.78,170.62 L538.27,169.77 L539.77,168.92 L541.27,168.07 L542.76,167.21 L544.26,166.35 L545.75,165.5 L547.25,164.64 L548.75,163.79 L550.24,162.93 L551.74,162.08 L553.23,161.22 L554.73,160.37 L556.23,159.52 L557.72,158.66 L559.22,157.81 L560.71,156.96 L562.21,156.1 L563.71,155.24 L565.2,154.39 L566.7,153.53 L568.19,152.67 L569.69,151.81 L571.19,150.95 L572.68,150.08 L574.18,149.22 L575.67,148.35 L577.17,147.48 L578.67,146.61 L580.16,145.74 L581.66,144.86 L583.15,143.98 L584.65,143.1 L586.15,142.21 L587.64,141.33 L589.14,140.44 L590.63,139.54 L592.13,138.65 L593.63,137.75 L595.12,136.85 L596.62,135.95 L598.11,135.05 L599.61,134.15 L601.11,133.24 L602.6,132.34 L604.1,131.43 L605.59,130.52 L607.09,129.62 L608.58,128.71 L610.08,127.8 L611.58,126.89 L613.07,125.99 L614.57,125.08 L616.06,124.18 L617.56,123.27 L619.06,122.37 L620.55,121.46 L622.05,120.56 L623.54,119.65 L625.04,118.74 L626.54,117.83 L628.03,116.93 L629.53,116.02 L631.02,115.11 L632.52,114.2 L634.02,113.29 L635.51,112.38 L637.01,111.46 L638.5,110.55 L640,109.64 L641.5,108.72 L642.99,107.81 L644.49,106.89 L645.98,105.97 L647.48,105.06 L648.98,104.14 L650.47,103.22 L651.97,102.29 L653.46,101.37 L654.96,100.45 L656.46,99.53 L657.95,98.6 L659.45,97.68 L660.94,96.75 L662.44,95.83 L663.94,94.9 L665.43,93.97 L666.93,93.04 L668.42,92.11 L669.92,91.18 L671.42,90.25 L672.91,89.32 L674.41,88.39 L675.9,87.45 L677.4,86.52" stroke="#ff0000" stroke-width="1.2" fill="none" stroke-dasharray="1.3 2.25" stroke-dashoffset="13.2"/>
<rect x="409.3" y="47.5" width="133.95" height="73.75" fill="#fff"/>
<path d="M409.3,109.63 L412.12,106.5 L416,103.73 L419.73,101.89 L429.46,97.65 L445.11,94.7 L458.65,93.78 L474.16,91.38 L486.85,90.83 L503.35,89.54 L515.05,88.62 L525.77,86.77 L543.25,84.74" stroke="#000" stroke-width="1.15" fill="none" stroke-dashoffset="0"/>
<path d="M409.3,109.63 L412.12,106.5 L416,103.73 L419.73,101.89 L429.46,97.65 L445.11,94.7 L458.65,93.78 L474.16,91.38 L486.85,90.83 L503.35,89.54 L515.05,88.62 L525.77,87.51 L543.25,85.48" stroke="#0000ff" stroke-width="1.2" fill="none" stroke-dasharray="6.7 2.2" stroke-dashoffset="0"/>
<path d="M409.3,109.63 L412.12,106.5 L416,103.73 L419.73,101.89 L429.46,97.65 L445.11,94.7 L458.65,93.78 L474.16,91.38 L486.85,90.83 L503.35,89.54 L515.05,88.62 L525.77,87.69 L543.25,85.67" stroke="#ff0000" stroke-width="1.2" fill="none" stroke-dasharray="1.2 2.6 6.3 2.7" stroke-dashoffset="0"/>
<path d="M416.35,121.25v-2.2 M416.35,47.5v2.2 M423.4,121.25v-2.2 M423.4,47.5v2.2 M430.45,121.25v-4.4 M430.45,47.5v4.4 M437.5,121.25v-2.2 M437.5,47.5v2.2 M444.55,121.25v-2.2 M444.55,47.5v2.2 M451.6,121.25v-2.2 M451.6,47.5v2.2 M458.65,121.25v-4.4 M458.65,47.5v4.4 M465.7,121.25v-2.2 M465.7,47.5v2.2 M472.75,121.25v-2.2 M472.75,47.5v2.2 M479.8,121.25v-2.2 M479.8,47.5v2.2 M486.85,121.25v-4.4 M486.85,47.5v4.4 M493.9,121.25v-2.2 M493.9,47.5v2.2 M500.95,121.25v-2.2 M500.95,47.5v2.2 M508,121.25v-2.2 M508,47.5v2.2 M515.05,121.25v-4.4 M515.05,47.5v4.4 M522.1,121.25v-2.2 M522.1,47.5v2.2 M529.15,121.25v-2.2 M529.15,47.5v2.2 M536.2,121.25v-2.2 M536.2,47.5v2.2 M430.45,121.25v-4.4 M430.45,47.5v4.4 M458.65,121.25v-4.4 M458.65,47.5v4.4 M486.85,121.25v-4.4 M486.85,47.5v4.4 M515.05,121.25v-4.4 M515.05,47.5v4.4 M409.3,121.25h4.4 M543.25,121.25h-4.4 M409.3,112.03h2.2 M543.25,112.03h-2.2 M409.3,102.81h2.2 M543.25,102.81h-2.2 M409.3,93.59h2.2 M543.25,93.59h-2.2 M409.3,84.38h4.4 M543.25,84.38h-4.4 M409.3,75.16h2.2 M543.25,75.16h-2.2 M409.3,65.94h2.2 M543.25,65.94h-2.2 M409.3,56.72h2.2 M543.25,56.72h-2.2 M409.3,47.5h4.4 M543.25,47.5h-4.4" stroke="#000" stroke-width="1.05" fill="none"/>
<rect x="409.3" y="47.5" width="133.95" height="73.75" fill="none" stroke="#000" stroke-width="1.05"/>
<text transform="translate(409.3,130.6) scale(1,1.06)" font-size="8" text-anchor="middle">5</text>
<text transform="translate(430.45,130.6) scale(1,1.06)" font-size="8" text-anchor="middle">20</text>
<text transform="translate(458.65,130.6) scale(1,1.06)" font-size="8" text-anchor="middle">40</text>
<text transform="translate(486.85,130.6) scale(1,1.06)" font-size="8" text-anchor="middle">60</text>
<text transform="translate(515.05,130.6) scale(1,1.06)" font-size="8" text-anchor="middle">80</text>
<text transform="translate(543.25,130.6) scale(1,1.06)" font-size="8" text-anchor="middle">100</text>
<text transform="translate(406.8,123.55) scale(1,1.06)" font-size="8" text-anchor="end">1</text>
<text transform="translate(406.8,86.67) scale(1,1.06)" font-size="8" text-anchor="end">1.2</text>
<text transform="translate(406.8,49.8) scale(1,1.06)" font-size="8" text-anchor="end">1.4</text>
<text x="442.3" y="62" font-size="8.3" text-anchor="start">K-factors over LO</text>
<path d="M395.37,240.4v-2.7 M395.37,32.45v2.7 M411.04,240.4v-2.7 M411.04,32.45v2.7 M426.71,240.4v-5.5 M426.71,32.45v5.5 M442.37,240.4v-2.7 M442.37,32.45v2.7 M458.04,240.4v-2.7 M458.04,32.45v2.7 M473.71,240.4v-2.7 M473.71,32.45v2.7 M489.38,240.4v-5.5 M489.38,32.45v5.5 M505.05,240.4v-2.7 M505.05,32.45v2.7 M520.72,240.4v-2.7 M520.72,32.45v2.7 M536.38,240.4v-2.7 M536.38,32.45v2.7 M552.05,240.4v-5.5 M552.05,32.45v5.5 M567.72,240.4v-2.7 M567.72,32.45v2.7 M583.39,240.4v-2.7 M583.39,32.45v2.7 M599.06,240.4v-2.7 M599.06,32.45v2.7 M614.73,240.4v-5.5 M614.73,32.45v5.5 M630.39,240.4v-2.7 M630.39,32.45v2.7 M646.06,240.4v-2.7 M646.06,32.45v2.7 M661.73,240.4v-2.7 M661.73,32.45v2.7 M379.7,240.4h5.5 M677.4,240.4h-5.5 M379.7,233.47h2.7 M677.4,233.47h-2.7 M379.7,226.54h2.7 M677.4,226.54h-2.7 M379.7,219.61h2.7 M677.4,219.61h-2.7 M379.7,212.67h2.7 M677.4,212.67h-2.7 M379.7,205.74h5.5 M677.4,205.74h-5.5 M379.7,198.81h2.7 M677.4,198.81h-2.7 M379.7,191.88h2.7 M677.4,191.88h-2.7 M379.7,184.95h2.7 M677.4,184.95h-2.7 M379.7,178.02h2.7 M677.4,178.02h-2.7 M379.7,171.08h5.5 M677.4,171.08h-5.5 M379.7,164.15h2.7 M677.4,164.15h-2.7 M379.7,157.22h2.7 M677.4,157.22h-2.7 M379.7,150.29h2.7 M677.4,150.29h-2.7 M379.7,143.36h2.7 M677.4,143.36h-2.7 M379.7,136.43h5.5 M677.4,136.43h-5.5 M379.7,129.49h2.7 M677.4,129.49h-2.7 M379.7,122.56h2.7 M677.4,122.56h-2.7 M379.7,115.63h2.7 M677.4,115.63h-2.7 M379.7,108.7h2.7 M677.4,108.7h-2.7 M379.7,101.77h5.5 M677.4,101.77h-5.5 M379.7,94.84h2.7 M677.4,94.84h-2.7 M379.7,87.9h2.7 M677.4,87.9h-2.7 M379.7,80.97h2.7 M677.4,80.97h-2.7 M379.7,74.04h2.7 M677.4,74.04h-2.7 M379.7,67.11h5.5 M677.4,67.11h-5.5 M379.7,60.18h2.7 M677.4,60.18h-2.7 M379.7,53.25h2.7 M677.4,53.25h-2.7 M379.7,46.31h2.7 M677.4,46.31h-2.7 M379.7,39.38h2.7 M677.4,39.38h-2.7 M379.7,32.45h5.5 M677.4,32.45h-5.5" stroke="#000" stroke-width="1.15" fill="none"/>
<rect x="379.7" y="32.45" width="297.7" height="207.95" fill="none" stroke="#000" stroke-width="1.15"/>
<text x="379.7" y="250.6" font-size="9.9" text-anchor="middle">5</text>
<text x="426.71" y="250.6" font-size="9.9" text-anchor="middle">20</text>
<text x="489.38" y="250.6" font-size="9.9" text-anchor="middle">40</text>
<text x="552.05" y="250.6" font-size="9.9" text-anchor="middle">60</text>
<text x="614.73" y="250.6" font-size="9.9" text-anchor="middle">80</text>
<text x="677.4" y="250.6" font-size="9.9" text-anchor="middle">100</text>
<text x="376.7" y="244.4" font-size="9.9" text-anchor="end">0</text>
<text x="376.7" y="209.74" font-size="9.9" text-anchor="end">10</text>
<text x="376.7" y="175.08" font-size="9.9" text-anchor="end">20</text>
<text x="376.7" y="140.43" font-size="9.9" text-anchor="end">30</text>
<text x="376.7" y="105.77" font-size="9.9" text-anchor="end">40</text>
<text x="376.7" y="71.11" font-size="9.9" text-anchor="end">50</text>
<text x="376.7" y="36.45" font-size="9.9" text-anchor="end">60</text>
<text x="504.1" y="265" font-size="12.4" text-anchor="start">&#8730;S&#160;&#160;(TeV)</text>
<text transform="translate(360.4,128.4) rotate(-90)" font-size="11.5" text-anchor="middle">(pb)</text>
<text transform="translate(360.8,149.6) rotate(-90)" font-size="13" text-anchor="middle">&#963;</text>
<rect x="573.4" y="169.45" width="93" height="58.85" fill="#fff" stroke="#000" stroke-width="1.3"/>
<path d="M576.9,175.5H594.9" stroke="#000" stroke-width="1.1" fill="none" stroke-dashoffset="0"/>
<text transform="translate(600.8,178.3) scale(1,1.08)" font-size="9.2" text-anchor="start">NLO&#160;&#160;MSHT20</text>
<path d="M576.9,184.88H594.9" stroke="#0000ff" stroke-width="1.1" fill="none" stroke-dasharray="6.7 2.2" stroke-dashoffset="0"/>
<text transform="translate(600.8,187.68) scale(1,1.08)" font-size="9.2" text-anchor="start">NLO CT18</text>
<path d="M576.9,194.26H594.9" stroke="#ff0000" stroke-width="1.1" fill="none" stroke-dasharray="1.2 2.6 6.3 2.7" stroke-dashoffset="0"/>
<text transform="translate(600.8,197.06) scale(1,1.08)" font-size="9.2" text-anchor="start">NLO NNPDF4.0</text>
<path d="M576.9,203.64H594.9" stroke="#000" stroke-width="1.1" fill="none" stroke-dasharray="5.05 2.05" stroke-dashoffset="0"/>
<text transform="translate(600.8,206.44) scale(1,1.08)" font-size="9.2" text-anchor="start">LO&#160;&#160;MSHT20</text>
<path d="M576.9,213.02H594.9" stroke="#0000ff" stroke-width="1.1" fill="none" stroke-dasharray="1.2 2.6 4.35 2.95 1.05 2.05" stroke-dashoffset="0"/>
<text transform="translate(600.8,215.82) scale(1,1.08)" font-size="9.2" text-anchor="start">LO&#160;&#160;&#160;CT18</text>
<path d="M576.9,222.4H594.9" stroke="#ff0000" stroke-width="1.1" fill="none" stroke-dasharray="1.3 2.25" stroke-dashoffset="0"/>
<text transform="translate(600.8,225.2) scale(1,1.08)" font-size="9.2" text-anchor="start">LO NNPDF4.0</text>
<text x="54.2" y="0" font-size="12.6" text-anchor="start" transform="translate(0,10.2) scale(1,1.06)">p p -&gt; t q &#947;</text>
<text x="127.2" y="0" font-size="12.6" text-anchor="start" transform="translate(0,10.2) scale(1,1.06)">cross section</text>
<text x="209.6" y="0" font-size="12.6" text-anchor="start" transform="translate(0,10.2) scale(1,1.06)">&#956;=m<tspan font-size="8.8" dy="4.3" dx="0.6">t</tspan><tspan dy="-4.3">=172.5 GeV</tspan></text>
<text x="28.6" y="21.6" font-size="8.4" text-anchor="start">MSHT20, CT18, NNPDF4.0 pdf at each order</text>
<text x="193.6" y="21.6" font-size="8.3" text-anchor="start">p<tspan font-size="6.2" dy="3.2" dx="0.3">&#947;T</tspan><tspan dy="-3.2"> &gt; 10 GeV</tspan></text>
<text x="250" y="21.6" font-size="8.3" text-anchor="start">|&#951;<tspan font-size="6" dy="2.6" dx="0.7">&#947;</tspan><tspan dy="-2.6" dx="0.3">| &lt; 2.6</tspan></text>
<text x="289.6" y="21.6" font-size="8.3" text-anchor="start">&#916;R &gt; 0.05</text>
<text x="406.4" y="0" font-size="12.6" text-anchor="start" transform="translate(0,10.2) scale(1,1.06)">p p -&gt; t q &#947;</text>
<text x="479.4" y="0" font-size="12.6" text-anchor="start" transform="translate(0,10.2) scale(1,1.06)">cross section</text>
<text x="561.8" y="0" font-size="12.6" text-anchor="start" transform="translate(0,10.2) scale(1,1.06)">&#956;=m<tspan font-size="8.8" dy="4.3" dx="0.6">t</tspan><tspan dy="-4.3">=172.5 GeV</tspan></text>
<text x="393.1" y="21.6" font-size="8.4" text-anchor="start">MSHT20, CT18, NNPDF4.0 NLO pdf</text>
<text x="534.5" y="21.6" font-size="8.3" text-anchor="start">p<tspan font-size="6.2" dy="3.2" dx="0.3">&#947;T</tspan><tspan dy="-3.2"> &gt; 10 GeV</tspan></text>
<text x="590" y="21.6" font-size="8.3" text-anchor="start">|&#951;<tspan font-size="6" dy="2.6" dx="0.7">&#947;</tspan><tspan dy="-2.6" dx="0.3">| &lt; 2.6</tspan></text>
<text x="630.9" y="21.6" font-size="8.3" text-anchor="start">&#916;R &gt; 0.05</text>
</svg>
</body></html>
